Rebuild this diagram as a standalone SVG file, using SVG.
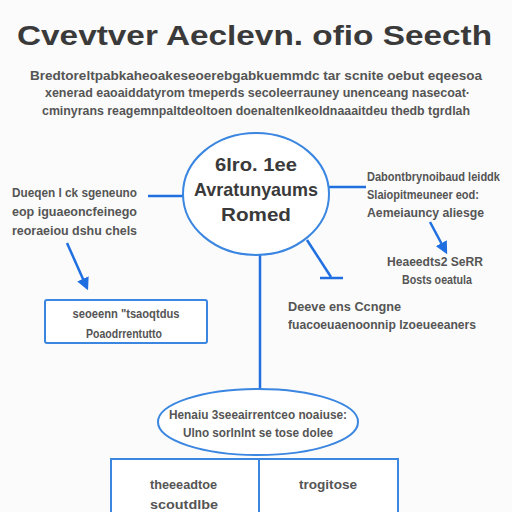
<svg xmlns="http://www.w3.org/2000/svg" width="512" height="512" viewBox="0 0 512 512">
<defs>
<marker id="ah" viewBox="0 0 10 10" refX="8" refY="5" markerWidth="5" markerHeight="5" orient="auto"><path d="M0,0 L10,5 L0,10 z" fill="#1f6fe0"/></marker>
</defs>
<style>
.t{font-family:"Liberation Sans",Arial,sans-serif;font-weight:bold;fill:#3a3a3a}
.s{font-size:12px;fill:#555}
.c{fill:none;stroke:#1f6fe0;stroke-width:2.5}
.n{fill:#fff;stroke:#3a86e0;stroke-width:2}
</style>
<rect width="512" height="512" fill="#fbfbfb"/>
<text class="t" x="17" y="45" font-size="28" textLength="475" lengthAdjust="spacingAndGlyphs" fill="#1a1a1a">Cvevtver Aeclevn. ofio Seecth</text>
<g id="intro" class="t s">
<text x="30" y="80" textLength="452" lengthAdjust="spacingAndGlyphs">Bredtoreltpabkaheoakeseoerebgabkuemmdc tar scnite oebut eqeesoa</text>
<text x="45" y="97" textLength="425" lengthAdjust="spacingAndGlyphs">xenerad eaoaiddatyrom tmeperds secoleerrauney unenceang nasecoat·</text>
<text x="42" y="115" textLength="428" lengthAdjust="spacingAndGlyphs">cminyrans reagemnpaltdeoltoen doenaltenlkeoldnaaaitdeu thedb tgrdlah</text>
</g>
<g id="connectors">
<line class="c" x1="148" y1="196" x2="183" y2="196"/>
<line class="c" x1="329" y1="187" x2="366" y2="187"/>
<line class="c" x1="260" y1="255" x2="260" y2="392"/>
<line class="c" x1="307" y1="240" x2="331" y2="277"/>
<line class="c" x1="320" y1="278" x2="343" y2="278"/>
<line class="c" x1="67" y1="243" x2="87" y2="288" marker-end="url(#ah)"/>
<line class="c" x1="430" y1="222" x2="446" y2="252" marker-end="url(#ah)"/>
</g>
<g id="center">
<ellipse class="n" cx="256" cy="194" rx="73" ry="61"/>
<text class="t" x="256" y="171" font-size="18" text-anchor="middle" textLength="82" lengthAdjust="spacingAndGlyphs">6lro. 1ee</text>
<text class="t" x="256" y="196" font-size="19" text-anchor="middle" textLength="124" lengthAdjust="spacingAndGlyphs">Avratunyaums</text>
<text class="t" x="256" y="221" font-size="18" text-anchor="middle" textLength="70" lengthAdjust="spacingAndGlyphs">Romed</text>
</g>
<g id="left-note" class="t s">
<text x="12" y="197" textLength="125" lengthAdjust="spacingAndGlyphs">Dueqen l ck sgeneuno</text>
<text x="12" y="216" textLength="125" lengthAdjust="spacingAndGlyphs">eop iguaeoncfeinego</text>
<text x="12" y="235" textLength="125" lengthAdjust="spacingAndGlyphs">reoraeiou dshu chels</text>
</g>
<g id="right-note" class="t s">
<text x="367" y="181" textLength="133" lengthAdjust="spacingAndGlyphs">Dabontbrynoibaud leiddk</text>
<text x="367" y="199" textLength="112" lengthAdjust="spacingAndGlyphs">Slaiopitmeuneer eod:</text>
<text x="367" y="217" textLength="117" lengthAdjust="spacingAndGlyphs">Aemeiauncy aliesge</text>
</g>
<g id="right-lower" class="t s">
<text x="435" y="266" text-anchor="middle" textLength="96" lengthAdjust="spacingAndGlyphs">Heaeedts2 SeRR</text>
<text x="437" y="284" text-anchor="middle" textLength="70" lengthAdjust="spacingAndGlyphs">Bosts oeatula</text>
</g>
<g id="left-box">
<rect class="n" x="45" y="300" width="162" height="43" rx="2"/>
<text class="t s" x="126" y="318" font-size="11" text-anchor="middle" textLength="107" lengthAdjust="spacingAndGlyphs">seoeenn "tsaoqtdus</text>
<text class="t s" x="124" y="338" font-size="11" text-anchor="middle" textLength="76" lengthAdjust="spacingAndGlyphs">Poaodrrentutto</text>
</g>
<g id="middle-note" class="t s">
<text x="288" y="311" textLength="113" lengthAdjust="spacingAndGlyphs">Deeve ens Ccngne</text>
<text x="288" y="329" textLength="188" lengthAdjust="spacingAndGlyphs">fuacoeuaenoonnip lzoeueeaners</text>
</g>
<g id="bottom-ellipse">
<ellipse class="n" cx="258" cy="422" rx="100" ry="33"/>
<text class="t s" x="258" y="419" text-anchor="middle" textLength="178" lengthAdjust="spacingAndGlyphs">Henaiu 3seeairrentceo noaiuse:</text>
<text class="t s" x="258" y="437" text-anchor="middle" textLength="150" lengthAdjust="spacingAndGlyphs">Ulno sorlnlnt se tose dolee</text>
</g>
<g id="bottom-left">
<rect class="n" x="111" y="459" width="148" height="60"/>
<text class="t s" x="150" y="489" textLength="67" lengthAdjust="spacingAndGlyphs">theeeadtoe</text>
<text class="t s" x="150" y="509" textLength="68" lengthAdjust="spacingAndGlyphs">scoutdlbe</text>
</g>
<g id="bottom-right">
<rect class="n" x="259" y="459" width="139" height="60"/>
<text class="t s" x="328" y="489" text-anchor="middle" textLength="58" lengthAdjust="spacingAndGlyphs">trogitose</text>
</g>
</svg>
